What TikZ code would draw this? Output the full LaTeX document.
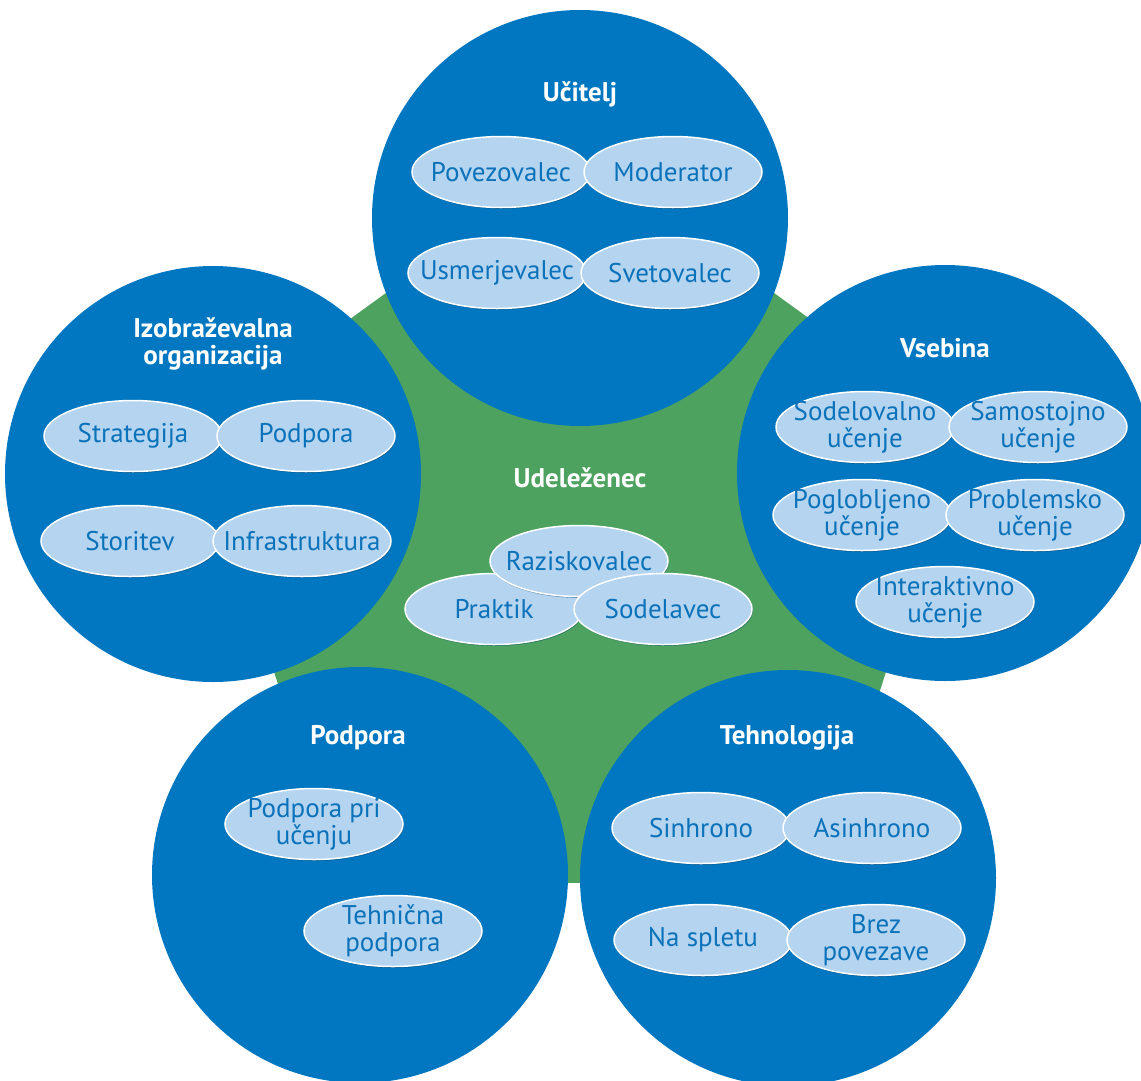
\documentclass[tikz,border=0pt]{standalone}
\usepackage{fontspec}
\setmainfont{PT Sans}
\usetikzlibrary{shapes.geometric,shadows}

\definecolor{ringblue}{HTML}{0077C0}
\definecolor{hubgreen}{HTML}{4CA25E}
\definecolor{pillfill}{HTML}{B4D4F0}
\definecolor{pilltext}{HTML}{0B72BA}

\begin{document}
\begin{tikzpicture}[x=1pt,y=-1pt,
    bubble/.style={circle, fill=ringblue, minimum size=416pt, inner sep=0pt},
    pill/.style={ellipse, fill=pillfill, draw=white, line width=1.5pt,
        minimum width=178pt, minimum height=71pt, inner xsep=-20pt, inner ysep=-12pt,
        align=center, text=pilltext, font=\fontsize{27}{27}\selectfont,
        drop shadow={shadow xshift=0.8pt, shadow yshift=-1.4pt,
            fill=ringblue!55!black, opacity=0.5}},
    title/.style={text=white, align=center, font=\fontsize{27}{27}\selectfont\bfseries}]

    % Define the frame
    \useasboundingbox (0,0) rectangle (1141,1080);
    \clip (0,0) rectangle (1141,1080);

    % Define the radius of the pentagon
    \def\R{404}

    % Define Coordinates
    \coordinate (O) at (580,556);
    \foreach \k in {0,...,4}
        \path (O) ++(270+72*\k:\R) coordinate (P\k);

    % 1. Draw the green pentagon
    \fill[hubgreen] (P0) -- (P1) -- (P2) -- (P3) -- (P4) -- cycle;

    % 2. Draw the five blue circles
    \node[bubble] (T) at (580,218) {};
    \node[bubble] (L) at (213,474) {};
    \node[bubble] (R) at (945,473) {};
    \node[bubble] (BL) at (360,875) {};
    \node[bubble] (BR) at (788,878) {};

    % 3. Add the titles
    \node[title] (tT) at (580,94) {Učitelj};
    \node[title] (tL) at (213,344) {Izobraževalna\\organizacija};
    \node[title] (tR) at (945,348) {Vsebina};
    \node[title] (tO) at (580,478) {Udeleženec};
    \node[title] (tBL) at (358,738) {Podpora};
    \node[title] (tBR) at (787,738) {Tehnologija};

    % 4. Top circle
    \node[pill] (t1) at (501,172) {Povezovalec};
    \node[pill] (t2) at (673,172) {Moderator};
    \node[pill] (t3) at (497,273) {Usmerjevalec};
    \node[pill] (t4) at (670,273) {Svetovalec};

    % 5. Left circle
    \node[pill] (l1) at (133,436) {Strategija};
    \node[pill] (l2) at (306,436) {Podpora};
    \node[pill] (l3) at (130,541) {Storitev};
    \node[pill] (l4) at (302,541) {Infrastruktura};

    % 6. Right circle
    \node[pill] (r1) at (865,427) {Sodelovalno\\učenje};
    \node[pill] (r2) at (1038,427) {Samostojno\\učenje};
    \node[pill] (r3) at (862,515) {Poglobljeno\\učenje};
    \node[pill] (r4) at (1035,515) {Problemsko\\učenje};
    \node[pill] (r5) at (945,602) {Interaktivno\\učenje};

    % 7. Centre
    \node[pill] (o2) at (494,609) {Praktik};
    \node[pill] (o1) at (579,561) {Raziskovalec};
    \node[pill] (o3) at (663,609) {Sodelavec};

    % 8. Bottom circles
    \node[pill] (bl1) at (314,824) {Podpora pri\\učenju};
    \node[pill] (bl2) at (393,931) {Tehnična\\podpora};
    \node[pill] (br1) at (701,828) {Sinhrono};
    \node[pill] (br2) at (872,828) {Asinhrono};
    \node[pill] (br3) at (703,940) {Na spletu};
    \node[pill] (br4) at (876,940) {Brez\\povezave};

\end{tikzpicture}
\end{document}
